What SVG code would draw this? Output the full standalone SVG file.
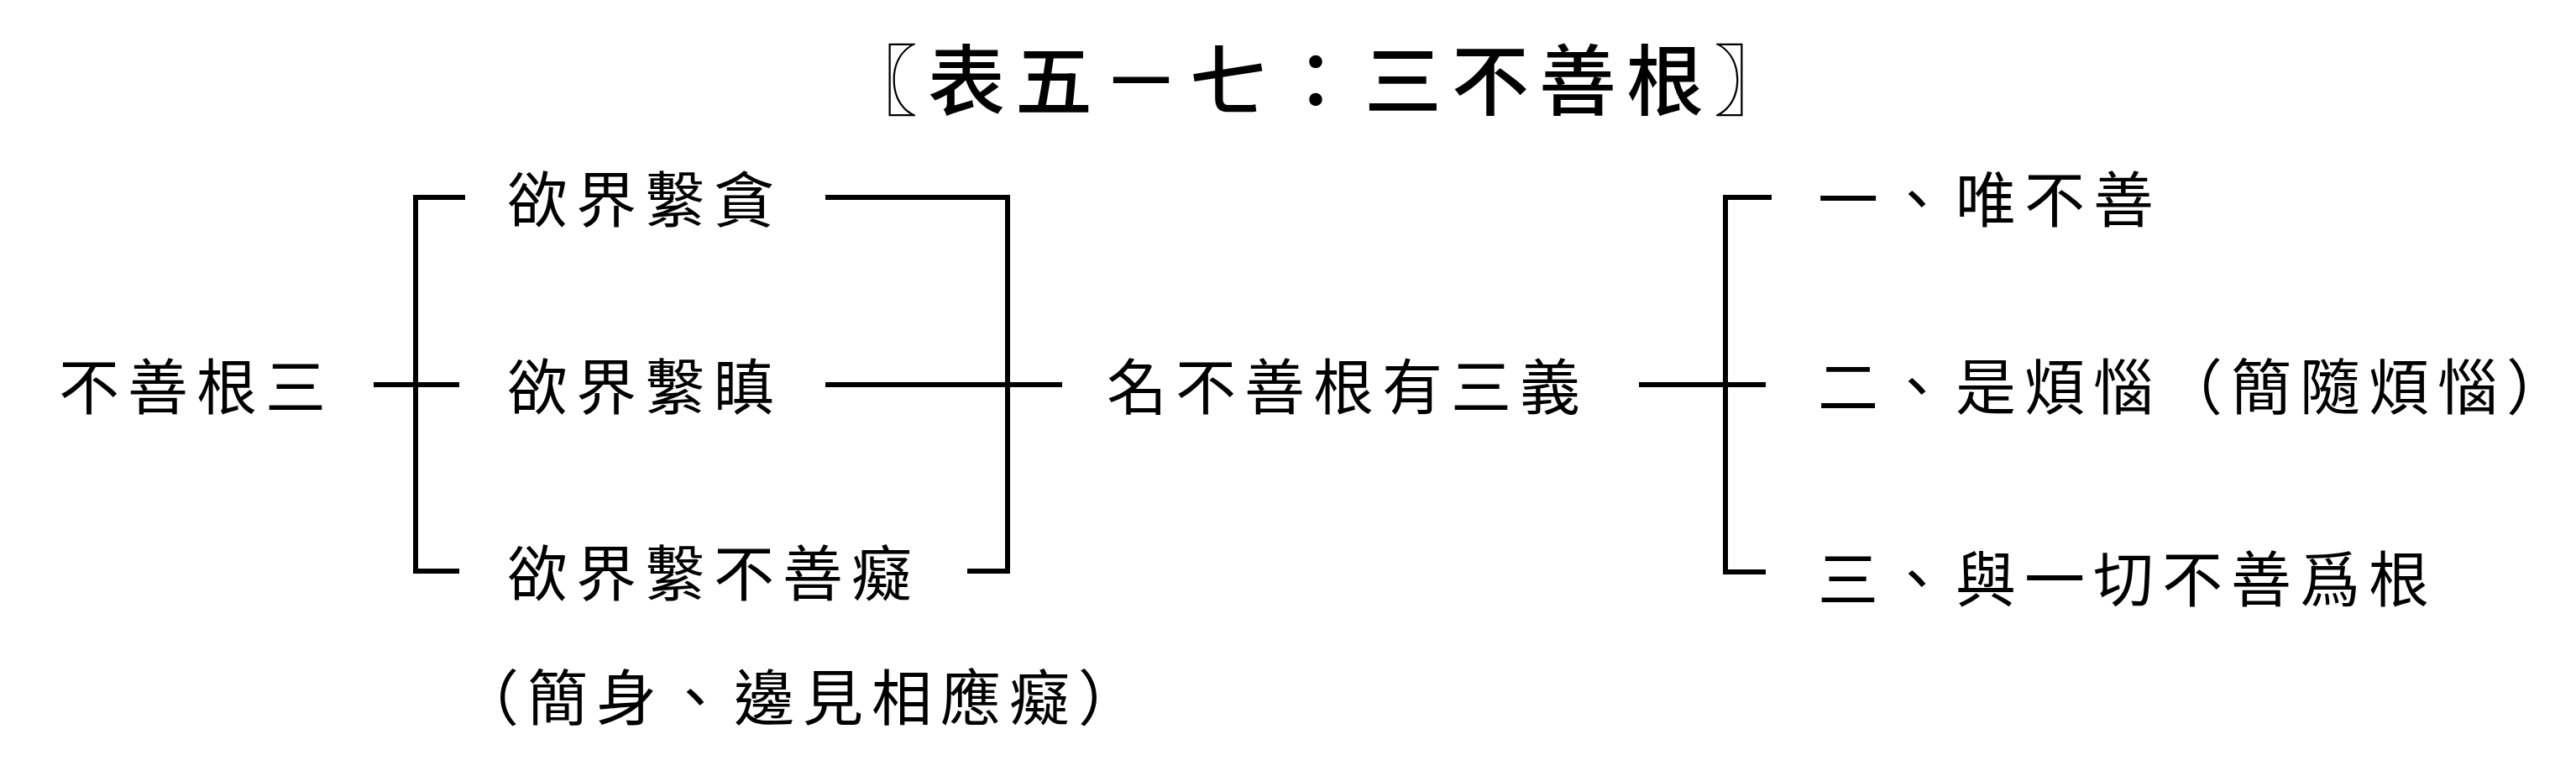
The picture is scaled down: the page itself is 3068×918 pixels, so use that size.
<svg xmlns="http://www.w3.org/2000/svg" width="3068" height="918" viewBox="0 0 3068 918">
<style>
.t{font-family:"Noto Sans CJK TC","Noto Sans CJK SC",sans-serif;font-size:72px;letter-spacing:10px;fill:#000}
.title{font-family:"Noto Sans CJK TC","Noto Sans CJK SC",sans-serif;font-size:92px;letter-spacing:12px;font-weight:500;fill:#000}
.c{fill:none;stroke:#000;stroke-width:6;stroke-linejoin:miter;stroke-linecap:butt}
</style>
<rect width="3068" height="918" fill="#fff"/>
<g id="title"><text class="title" x="1001" y="130">〖表五－七：三不善根〗</text></g>
<g id="connectors">
<path class="c" d="M554,235 H495 V680 H547"/>
<path class="c" d="M445,458 H547"/>
<path class="c" d="M983,235 H1200 V680 H1152"/>
<path class="c" d="M983,458 H1265"/>
<path class="c" d="M2110,235 H2055 V681 H2103"/>
<path class="c" d="M1952,458 H2103"/>
</g>
<g id="root"><text class="t" x="70" y="487">不善根三</text></g>
<g id="n1"><text class="t" x="604" y="264">欲界繫貪</text></g>
<g id="n2"><text class="t" x="604" y="487">欲界繫瞋</text></g>
<g id="n3"><text class="t" x="604" y="709">欲界繫不善癡</text></g>
<g id="note"><text class="t" x="546" y="857">（簡身、邊見相應癡）</text></g>
<g id="mid"><text class="t" x="1318" y="487">名不善根有三義</text></g>
<g id="r1"><text class="t" x="2165" y="264">一、唯不善</text></g>
<g id="r2"><text class="t" x="2165" y="487">二、是煩惱（簡隨煩惱）</text></g>
<g id="r3"><text class="t" x="2165" y="716">三、與一切不善爲根</text></g>
</svg>
